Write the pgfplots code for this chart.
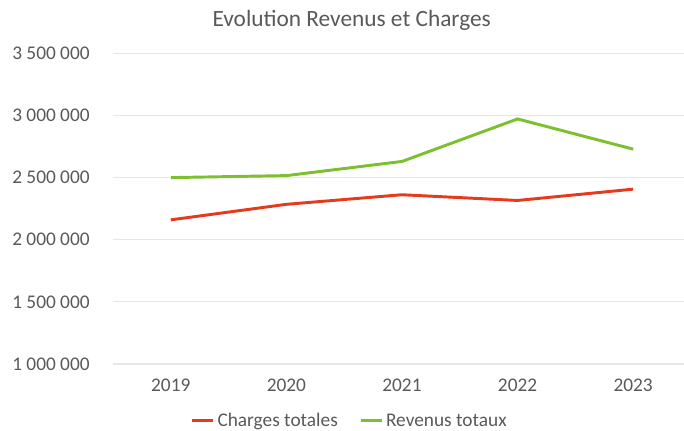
\documentclass[border=0pt]{standalone}
\usepackage{pgfplots}
\pgfplotsset{compat=1.18}
\usepackage{fontspec}
\setmainfont{Carlito}
\definecolor{txtgray}{HTML}{595959}
\definecolor{gridgray}{HTML}{E6E6E6}
\definecolor{chargesred}{HTML}{E63A1E}
\definecolor{revgreen}{HTML}{7CBF2F}

\begin{document}
\begin{tikzpicture}
\useasboundingbox (-84.75pt,-50.25pt) rectangle (428.25pt,273pt);
\begin{axis}[
    at={(0,0)}, anchor=south west,
    scale only axis,
    width=428.25pt, height=233pt,
    xmin=-0.5, xmax=4.44,
    ymin=1000000, ymax=3500000,
    clip=false,
    scaled y ticks=false,
    axis line style={draw=none},
    major tick length=0pt,
    xtick={0,1,2,3,4},
    xticklabels={2019,2020,2021,2022,2023},
    ytick={1000000,1500000,2000000,2500000,3000000,3500000},
    yticklabels={1 000 000,1 500 000,2 000 000,2 500 000,3 000 000,3 500 000},
    ymajorgrids,
    grid style={gridgray, line width=0.8pt},
    tick label style={font=\fontsize{14.5}{16}\selectfont, text=txtgray},
    yticklabel style={xshift=-14pt},
    xticklabel style={yshift=-8pt},
    legend style={at={(axis description cs:0.415,-0.183)}, anchor=center,
        draw=none, fill=none, font=\fontsize{14.5}{16}\selectfont, text=txtgray,
        /tikz/every even column/.append style={column sep=14pt}},
    legend columns=2,
    legend image code/.code={\draw[#1, line width=2.2pt] (0pt,0pt) -- (16pt,0pt);},
    every axis plot/.append style={line width=2.2pt},
]
\addplot[chargesred] coordinates {
(0,2160000) (1,2285000) (2,2362000) (3,2316000) (4,2407000)
};
\addlegendentry{Charges totales}
\addplot[revgreen] coordinates {
(0,2500000) (1,2516000) (2,2630000) (3,2972000) (4,2729000)
};
\addlegendentry{Revenus totaux}
\node[font=\fontsize{17.5}{20}\selectfont, text=txtgray] at (axis description cs:0.418,1.107) {Evolution Revenus et Charges};
\end{axis}
\end{tikzpicture}
\end{document}
